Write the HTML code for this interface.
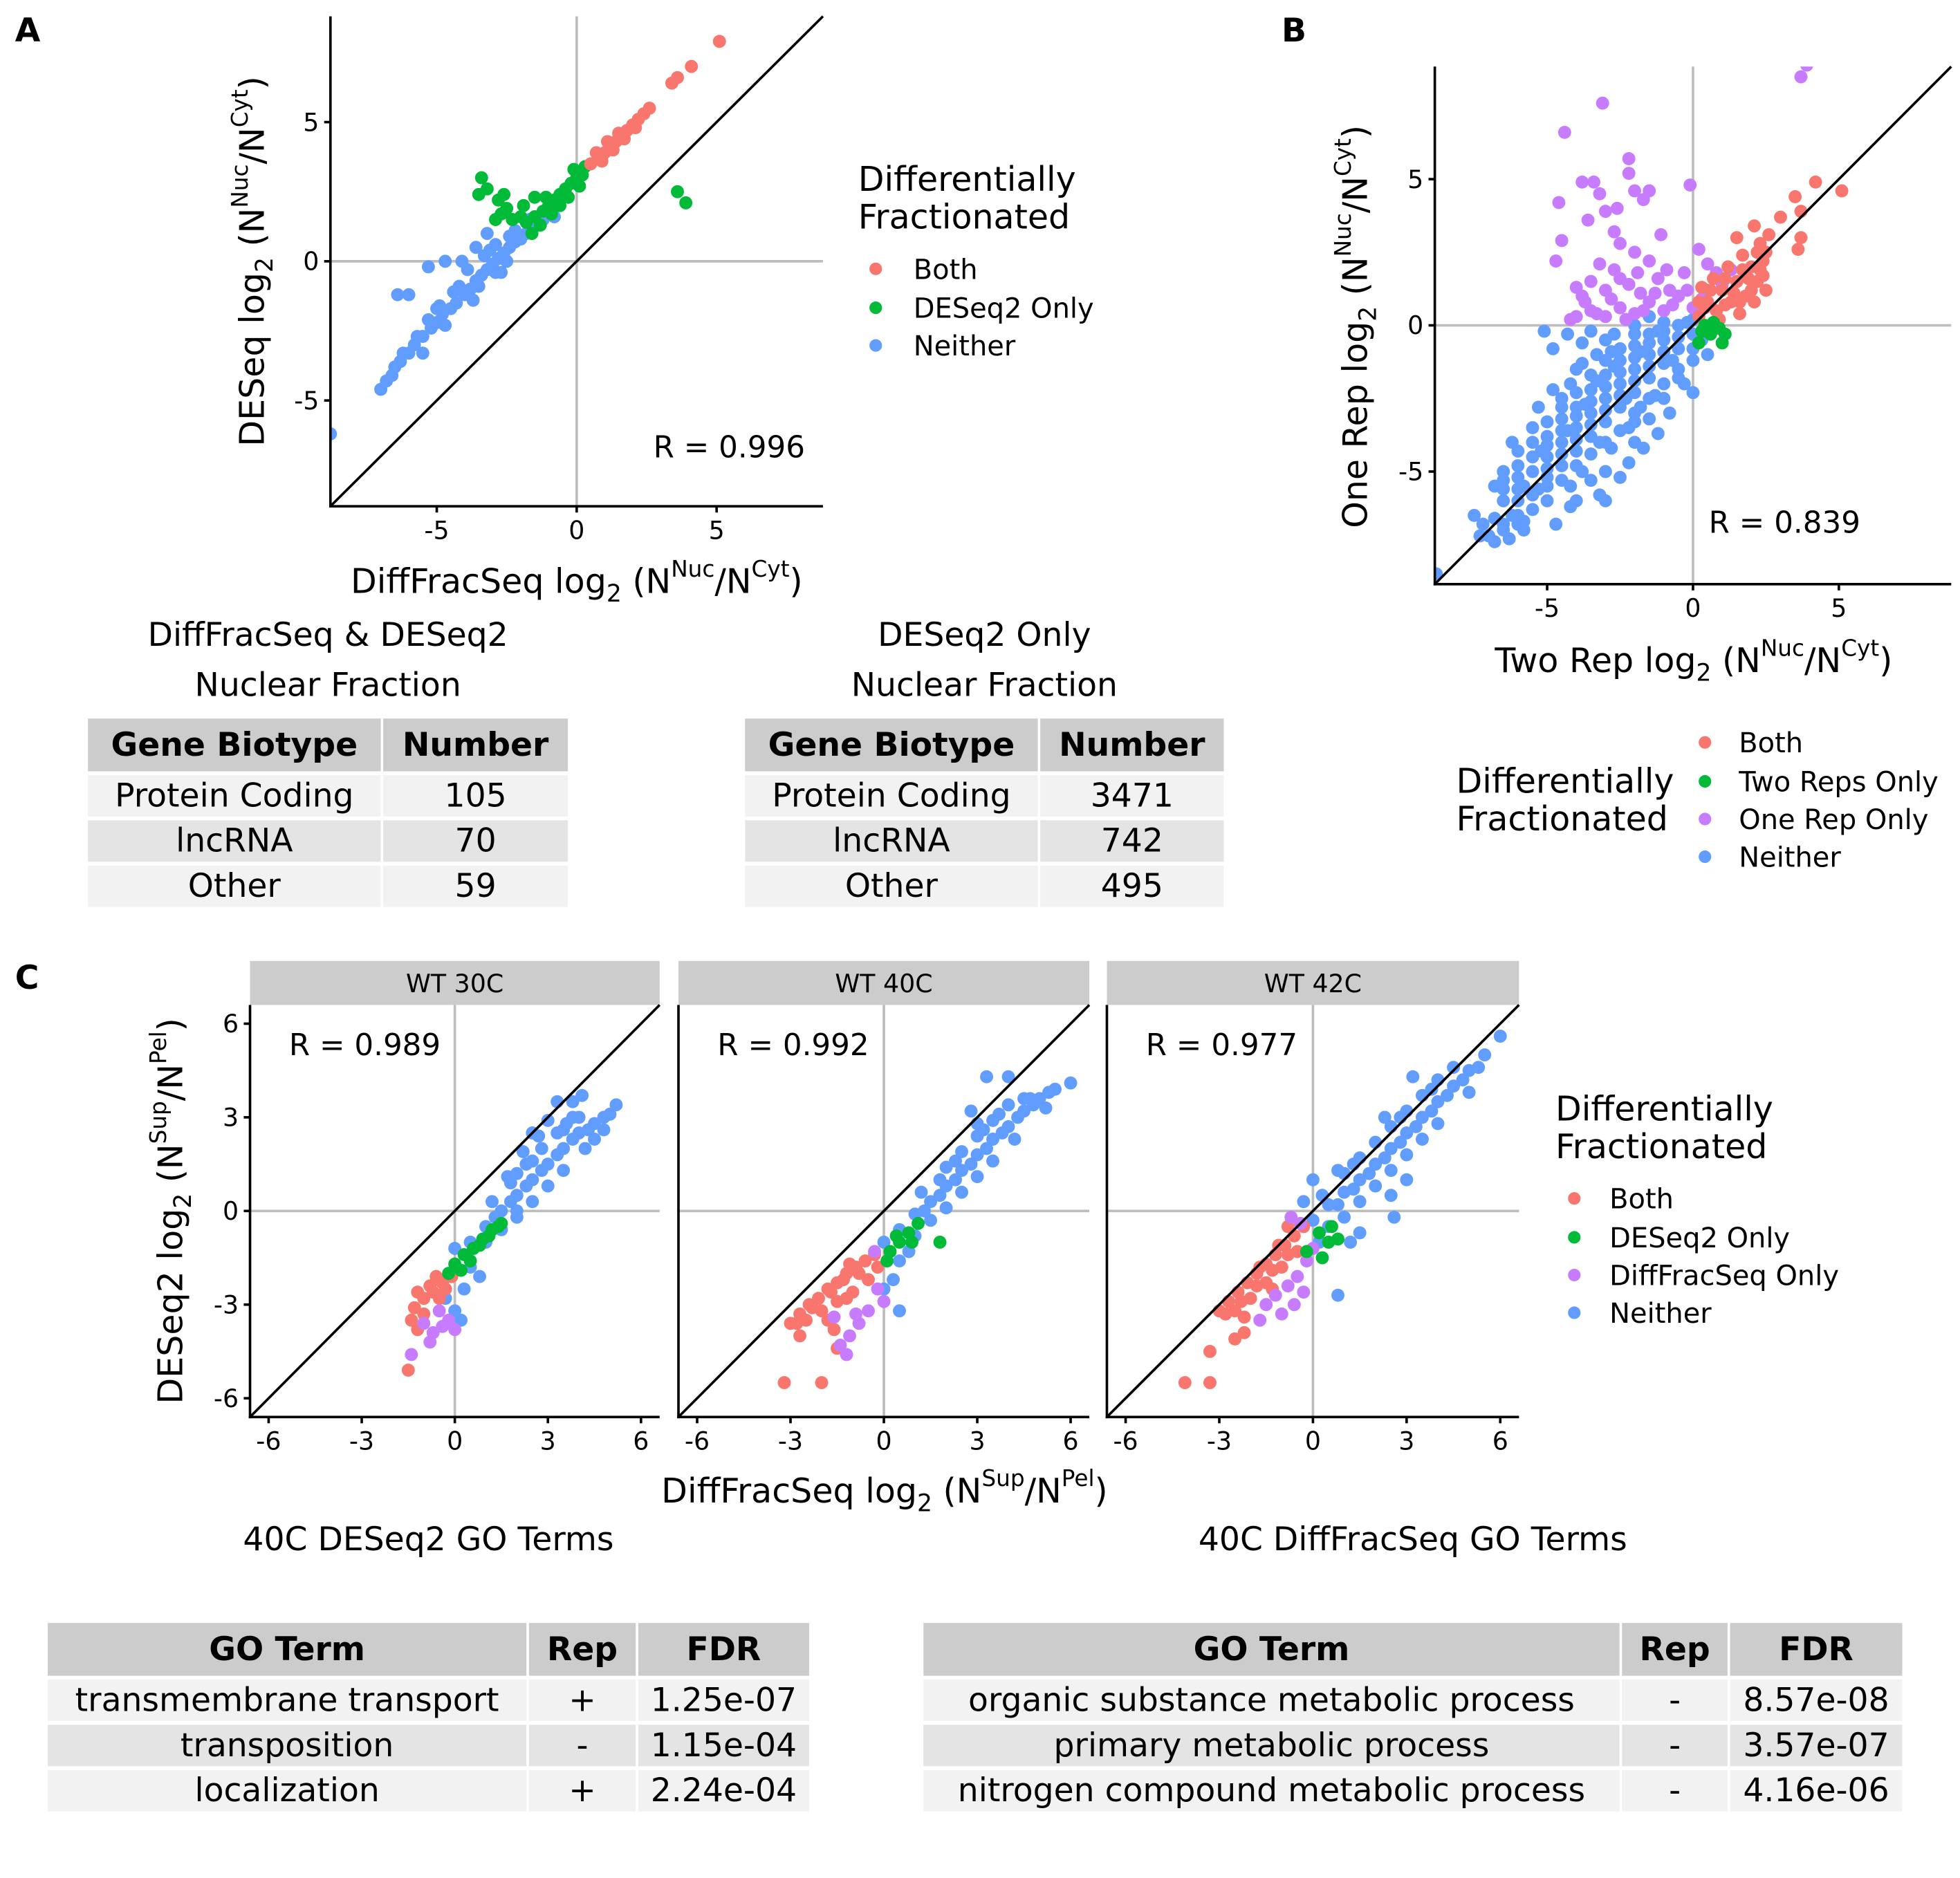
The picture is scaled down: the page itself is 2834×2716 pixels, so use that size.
<!DOCTYPE html>
<html><head><meta charset="utf-8">
<style>
html,body{margin:0;padding:0;background:#fff;}
svg{display:block;}
text{font-family:"DejaVu Sans","Liberation Sans",sans-serif;fill:#000;}
</style></head>
<body>
<svg id="fig" width="2834" height="2716" viewBox="0 0 1560 1495" preserveAspectRatio="none" xmlns="http://www.w3.org/2000/svg">
<rect x="0" y="0" width="1560" height="1495" fill="#fff"/>
<text x="12" y="33" font-size="26" font-weight="bold">A</text>
<text x="1020" y="33" font-size="26" font-weight="bold">B</text>
<text x="12" y="787" font-size="26" font-weight="bold">C</text>
<g id="layer"></g>
</svg>
<script>
// ---- data ----
const colorBoth="#F8766D", colorGreen="#00BA38", colorPurple="#C77CFF", colorBlue="#619CFF";
const aBlue=[[-8.8,-6.2],[-7,-4.6],[-6.6,-4.1],[-6.3,-3.6],[-6,-3.3],[-5.8,-3],[-5.5,-2.7],[-5.2,-2.4],[-5,-2.2],[-4.8,-1.9],[-4.5,-1.7],[-4.3,-1.5],[-4,-1.2],[-3.8,-1],[-3.6,-0.7],[-3.4,-0.5],[-3.2,-0.3],[-3,-0.1],[-2.8,0.1],[-2.6,0.3],[-2.4,0.5],[-2.2,0.7],[-2,0.8],[-1.8,1],[-1.6,1.2],[-1.4,1.3],[-6,-1.2],[-6.4,-1.2],[-5.3,-0.2],[-4.1,0],[-3.6,0.5],[-3.9,-0.3],[-3.3,0.2],[-2.9,0.6],[-2.4,0.9],[-5,-1.7],[-4.4,-1.1],[-3.5,-0.9],[-2.9,-0.4],[-2.5,0],[-4.7,0],[-3.2,1],[-1.2,1.5],[-0.8,1.6],[-5.5,-3.3],[-6.5,-3.8],[-4.7,-2.3],[-3.7,-1.4],[-2.7,-0.4],[-6.8,-4.3],[-6.2,-3.3],[-5.7,-2.7],[-5.3,-2.1],[-4.9,-1.6],[-4.2,-0.9],[-3.1,0.4],[-2.2,1.1],[-1.7,1.5]];
const aGreen=[[-3.4,3.0],[-3.2,2.6],[-3.5,2.4],[-2.8,2.2],[-2.5,1.9],[-2.7,1.7],[-2.0,1.6],[-1.8,1.4],[-1.5,1.6],[-1.2,1.8],[-1.0,2.0],[-0.8,2.2],[-0.6,2.4],[-0.4,2.6],[-0.2,2.8],[0,3.0],[0.2,3.1],[-0.1,3.3],[0.3,3.4],[-1.5,2.3],[-1.9,2.0],[-2.3,1.5],[-1.3,1.3],[-0.6,2.0],[-2.6,2.4],[3.6,2.5],[3.9,2.1],[-2.9,1.5],[-1.6,1.0],[-0.9,1.7],[-0.3,2.3],[0.1,2.7],[-1.1,2.3]];
const aRed=[[0.5,3.5],[0.8,3.7],[1.0,3.9],[1.2,4.1],[1.4,4.3],[1.6,4.5],[1.8,4.7],[2.0,4.9],[2.2,5.1],[2.4,5.3],[2.6,5.5],[1.1,4.3],[1.5,4.6],[0.7,3.9],[3.4,6.4],[3.6,6.6],[4.1,7.0],[5.1,7.9],[0.9,3.6],[1.3,4.0],[1.7,4.4],[2.1,4.8]];
const bBlue=[[-7,-7.2],[-7.2,-6.8],[-6.8,-6.6],[-6.5,-7],[-6.2,-6.5],[-6.5,-6],[-6,-6],[-5.8,-5.5],[-6,-5.2],[-5.5,-5],[-5.3,-5.6],[-5,-5.2],[-5.5,-4.5],[-5,-4.5],[-4.5,-4.8],[-4.5,-4],[-5,-3.8],[-4,-4.3],[-4,-3.5],[-4.5,-3.2],[-3.5,-3.8],[-3.5,-3],[-4,-2.8],[-3,-3.3],[-3,-2.5],[-3.5,-2.2],[-2.5,-2.8],[-2.5,-2],[-3,-1.7],[-2,-2.3],[-2,-1.5],[-2.5,-1.2],[-1.5,-1.8],[-1.5,-1],[-2,-0.7],[-1,-1.3],[-1,-0.5],[-1.5,-0.3],[-0.5,-0.8],[-0.5,0],[-1,0.1],[0,-0.3],[0,0.2],[0.3,-0.5],[-3.5,-0.2],[-3,-0.5],[-4,-1.5],[-2,0],[-6.5,-5],[-7.5,-6.5],[-8.8,-8.5],[-4,-6],[-3,-5],[-2,-4],[-1.5,-3.2],[-1,-2.5],[-0.5,-1.8],[0,-1.2],[0.5,-1],[-5.5,-6.3],[-5,-6],[-6,-4.3],[-5.5,-3.5],[-4.8,-2.2],[-3.8,-5],[-2.8,-4.2],[-2,-3.3],[-1.3,-2.4],[-4.2,-5.5],[-3.2,-4],[-6.3,-7.3],[-5.8,-6.7],[0,-2.3],[-0.3,-2],[-4.5,-2.5],[-3.8,-1.3],[-3.3,-1],[-2.7,-0.3],[-1.5,0.3],[-6.8,-5.5],[-4.8,-0.8],[-2.2,-3.5],[-1.2,-3.7],[-2.5,-5.2],[-3.2,-5.8],[-5.1,-0.2],[-4.7,-6.8],[-3,-6],[-4.2,-2],[-3.3,-1.9],[-2.7,-1.4],[-1.8,-0.9],[-1.2,-0.2],[-5.2,-4.3],[-4.3,-3.6],[-3.7,-2.7],[-2.3,-2.5],[-0.7,-1.2],[-6,-6.8],[-6.5,-5.6],
[-6.5,-6.8],[-6.5,-5.3],[-6,-6.5],[-6,-5.6],[-6,-4.8],[-5.5,-5.8],[-5.5,-4],[-5,-5.5],[-5,-4.9],[-5,-4.1],[-5,-3.3],[-4.5,-5.3],[-4.5,-4.4],[-4.5,-3.6],[-4.5,-2.8],[-4,-4.8],[-4,-3.9],[-4,-3.1],[-4,-2.3],[-3.5,-4.4],[-3.5,-3.4],[-3.5,-2.6],[-3.5,-1.7],[-3,-4],[-3,-2.9],[-3,-2.1],[-3,-1.2],[-2.5,-3.6],[-2.5,-2.4],[-2.5,-1.6],[-2.5,-0.8],[-2,-3],[-2,-1.9],[-2,-1.1],[-2,-0.3],[-1.5,-2.5],[-1.5,-1.4],[-1.5,-0.6],[-1,-2],[-1,-0.9],[-1,-0.2],[-0.5,-1.5],[-0.5,-0.4],[0,-0.8],[-0.2,0.1],[0.3,-0.2],[-4.3,-0.3],[-3.8,-0.6],[-2.8,-0.9],[-1.8,-2.8],[-0.8,-3],[-3.5,-5.3],[-4.2,-6.2],[-6.8,-7.4],[-7.3,-7.2],[-5.8,-7],[-2.2,-4.7],[-1.7,-4.2],[-5.3,-2.8],[-6.2,-4]];
const bPurple=[[-4,0.3],[-3.5,0.5],[-3,0.3],[-2.5,0.6],[-2,0.4],[-1.5,0.8],[-1,0.5],[-0.5,1],[0,0.6],[0.5,1.2],[1,1.4],[-3.8,1],[-3,1.2],[-2.2,1.4],[-1.2,1.6],[-0.3,1.8],[0.5,2.1],[-2.7,1.9],[-1.8,1.1],[-0.8,1.2],[-3.2,2.1],[-2,2.5],[-1.5,2.2],[-4.4,6.6],[-4.6,4.2],[-3.8,4.9],[-3.4,4.9],[-3.2,4.5],[-2.6,4],[-3.1,7.6],[-2.2,5.7],[-2.2,5.2],[-2,4.6],[-1.7,4.3],[-2.7,3.2],[-2.5,2.8],[-1.1,3.1],[-0.1,4.8],[-4.7,2.2],[-4.5,2.9],[-3.6,3.6],[-3,3.9],[-1.5,4.6],[3.7,8.5],[3.9,8.9],[0.2,2.6],
[-4.2,0.2],[-3.7,0.8],[-3.3,0.4],[-2.8,0.9],[-2.3,0.2],[-1.7,0.5],[-1.3,1.1],[-0.7,0.7],[-0.2,1.2],[0.3,0.9],[0.8,1.8],[-2.5,1.6],[-1.9,1.8],[-0.9,1.9],[-3.5,1.5],[-4,1.3],[1.3,1.9]];
const bRed=[[0.2,0.3],[0.5,0.8],[0.8,0.5],[1,1.2],[1.3,0.8],[1.5,1.5],[1.8,1],[2,2],[2.2,1.5],[2.4,2.2],[1.2,2],[0.7,1.6],[1.7,2.4],[2.5,1.2],[0.9,0.2],[1.6,0.4],[2.1,0.8],[1.5,3],[2.6,3.1],[2.1,3.4],[3.6,2.6],[3.7,3],[3.7,3.9],[3.5,4.4],[4.2,4.9],[5.1,4.6],[3,3.7],[2.3,2.8],[0.3,1.3],
[0.4,0.6],[0.6,1.2],[1.1,0.7],[1.4,1.1],[1.9,1.6],[2.3,1.9],[2.5,2.5],[1.7,1.9],[1.1,1.6],[2,1.2],[2.4,1.7],[0.2,0.8],[1.6,0.8],[2.2,2.5]];
const bGreen=[[0.3,-0.2],[0.6,-0.3],[0.9,-0.1],[1.1,-0.3],[0.7,0.1],[0.2,-0.6],[1.0,-0.6],[0.4,0.0]];
const c30Blue=[[0,-1.2],[0.5,-1],[1,-0.5],[1.5,0],[2,0.5],[2.5,1],[3,1.5],[3.5,2],[4,2.5],[4.5,2.8],[5,3.1],[5.2,3.4],[1.2,0.3],[1.8,0.9],[2.3,1.5],[2.8,2],[3.3,2.5],[3.8,3],[3.3,3.5],[3.8,3.5],[2.2,1.9],[2.7,2.4],[3,2.9],[1,-1],[1.5,-0.6],[2,-0.2],[2.5,0.3],[3,0.8],[3.5,1.3],[4.2,2],[4.5,2.3],[0.5,-1.8],[0.3,-2.5],[0.8,-2.1],[0,-3.2],[0.2,-3.5],[-0.3,-2.8],[4.8,2.6],[3.6,2.8],[2,0],[1.7,1.1],[4.1,3.7],[2.5,2.5],
[1.3,-0.2],[1.8,0.3],[2.3,0.8],[2.8,1.3],[3.3,1.8],[3.8,2.3],[4.3,2.6],[4.8,3],[2.5,1.6],[2,1.2],[3.5,2.6],[4,3]];
const c30Green=[[0,-1.7],[0.3,-1.4],[0.6,-1.2],[0.9,-0.9],[1.2,-0.6],[1.5,-0.4],[0.2,-1.9],[0.5,-1.6],[0.8,-1.1],[1.1,-0.8],[1.4,-0.5],[-0.2,-2.0]];
const c30Red=[[-1.3,-3.1],[-1,-2.8],[-0.7,-2.6],[-0.4,-2.3],[-0.1,-2.1],[-1.2,-2.6],[-0.8,-2.4],[-0.5,-2.8],[-1.4,-3.5],[-1.0,-3.3],[-0.3,-2.5],[-1.5,-5.1],[-1.2,-3.8],[-0.6,-2.1]];
const c30Purple=[[-1,-3.6],[-0.7,-3.9],[-0.4,-3.7],[-0.8,-4.2],[-0.2,-3.5],[-1.4,-4.6],[0,-3.8],[-0.5,-3.2]];
const c40Blue=[[0,-1],[0.5,-0.6],[1,-0.1],[1.5,0.3],[2,0.8],[2.5,1.3],[3,1.8],[3.5,2.3],[4,2.7],[4.5,3.2],[5,3.6],[5.5,3.9],[6,4.1],[2,1.4],[2.5,1.9],[3,2.4],[3.5,2.9],[4,3.4],[2.8,3.2],[3,2.8],[3.3,4.3],[4,4.3],[4.7,3.6],[1.5,-0.3],[2,0.1],[2.5,0.6],[3,1.1],[3.5,1.6],[4.2,2.3],[0.5,-1.6],[0.3,-2.2],[0.5,-3.2],[0,-2.5],[1,-0.8],[1.2,0.6],[5.2,3.3],[1.8,1],[0.8,-1.3],
[1.3,0],[1.8,0.5],[2.3,1],[2.8,1.5],[3.3,2],[3.8,2.5],[4.3,3],[4.8,3.4],[5.3,3.8],[2.3,1.6],[3.2,2.6],[3.7,3.1],[4.5,3.6]];
const c40Green=[[0.2,-1.3],[0.5,-1.0],[0.8,-0.7],[1.1,-0.4],[0.4,-0.8],[0.9,-1],[1.8,-1.0],[0.1,-1.6]];
const c40Red=[[-3,-3.6],[-2.7,-3.3],[-2.4,-3],[-2.1,-2.8],[-1.8,-2.5],[-1.5,-2.3],[-1.2,-2],[-0.9,-1.8],[-0.6,-1.6],[-0.3,-1.4],[-2.5,-3.5],[-2,-3.2],[-1.5,-2.9],[-1,-2.6],[-0.5,-2.2],[-1.8,-3.5],[-1.2,-2.8],[-3.2,-5.5],[-2,-5.5],[-2.7,-4],[-1.5,-4.4],[-1.6,-3.8],[-0.2,-1.8],
[-2.8,-3.6],[-2.3,-3.1],[-1.7,-2.6],[-1.3,-2.2],[-0.8,-2],[-1.1,-1.7]];
const c40Purple=[[-1.4,-4.3],[-1.1,-4],[-0.8,-3.6],[-0.5,-3.2],[-1.2,-4.6],[-0.9,-3.3],[-0.2,-2.5],[-0.3,-1.3],[0,-2.9],[-1.6,-3.4]];
const c42Blue=[[0,-0.3],[0.5,0.2],[1,0.6],[1.5,1],[2,1.5],[2.5,2],[3,2.5],[3.5,3],[4,3.5],[4.5,4],[5,4.5],[5.5,5],[6,5.6],[1,1.2],[1.5,1.7],[2,2.2],[2.5,2.7],[3,3.2],[3.5,3.7],[4,4.2],[4.5,4.6],[1.5,0.3],[2,0.8],[2.5,1.3],[3,1.8],[3.5,2.3],[4,2.8],[0.5,-0.5],[1,-0.2],[2.5,0.5],[3,1],[0.3,0.5],[0.8,1.3],[3.2,4.3],[2.3,3],[0,1],[-0.3,0.3],[1.2,-1],[0.8,-2.7],[1.5,-0.7],[0.2,-1],[5,3.8],[2.6,-0.2],
[0.8,0.2],[1.3,0.7],[1.8,1.2],[2.3,1.7],[2.8,2.2],[3.3,2.7],[3.8,3.2],[4.3,3.7],[4.8,4.2],[5.3,4.6],[1.3,1.5],[2.8,3],[3.8,3.9]];
const c42Red=[[-3,-3.2],[-2.7,-2.9],[-2.4,-2.6],[-2.1,-2.3],[-1.8,-2],[-1.5,-1.7],[-1.2,-1.4],[-0.9,-1.1],[-0.6,-0.8],[-0.3,-0.5],[-2.5,-3.2],[-2,-2.8],[-1.5,-2.3],[-1,-1.8],[-0.5,-1.3],[-2.2,-3.4],[-1.3,-2.5],[-4.1,-5.5],[-3.3,-5.5],[-3.3,-4.5],[-2.5,-4.1],[-2.2,-3.9],[-0.8,-0.5],
[-2.8,-3.3],[-2.3,-2.9],[-1.8,-2.4],[-1.3,-1.9],[-0.8,-1.4],[-1.7,-1.8],[-1.1,-1.1]];
const c42Purple=[[-1.5,-3],[-1.2,-2.7],[-0.8,-2.4],[-0.5,-2.1],[-1,-3.3],[-0.6,-3],[-0.2,-1.6],[0,-1.2],[-0.4,-0.4],[-0.7,-0.2],[-1.7,-3.5],[-0.3,-2.6]];
const c42Green=[[0.2,-0.7],[0.5,-1.0],[0.3,-1.5],[0.8,-0.9],[0.6,-0.5],[-0.2,-1.3]];
const ticksAB=[-5,0,5];
const ticksC=[-6,-3,0,3,6];

const NS="http://www.w3.org/2000/svg";
const layer=document.getElementById('layer');
function mk(tag,attrs,parent){const e=document.createElementNS(NS,tag);for(const k in attrs)e.setAttribute(k,attrs[k]);(parent||layer).appendChild(e);return e;}
function txt(x,y,s,size,anchor,parent,extra){const t=mk('text',Object.assign({x:x,y:y,'font-size':size,'text-anchor':anchor||'start'},extra||{}),parent);t.textContent=s;return t;}

function panel(name,x0,y0,x1,y1,dom,ticks,series,rtext,rx,ry,yticks){
  const g=mk('g',{});
  
  
  const sx=v=>x0+(v-dom[0])/(dom[1]-dom[0])*(x1-x0);
  const sy=v=>y1-(v-dom[0])/(dom[1]-dom[0])*(y1-y0);
  const clipId='clip-'+name;
  const cp=mk('clipPath',{id:clipId},g);mk('rect',{x:x0,y:y0,width:x1-x0,height:y1-y0},cp);
  const hz=mk('line',{x1:x0,x2:x1,y1:sy(0),y2:sy(0),stroke:'#bdbdbd','stroke-width':2},g);
  
  const vz=mk('line',{x1:sx(0),x2:sx(0),y1:y0,y2:y1,stroke:'#bdbdbd','stroke-width':2},g);
  
  const pts=mk('g',{'clip-path':'url(#'+clipId+')'},g);
  series.forEach(s=>{s[0].forEach(p=>{const c=mk('circle',{cx:sx(p[0]),cy:sy(p[1]),r:5.2,fill:s[1]},pts);
    
    });});
  const dl=mk('line',{x1:sx(dom[0]),y1:sy(dom[0]),x2:sx(dom[1]),y2:sy(dom[1]),stroke:'#000','stroke-width':2},g);
  
  mk('line',{x1:x0,x2:x0,y1:y0,y2:y1+1,stroke:'#000','stroke-width':2},g);
  mk('line',{x1:x0-1,x2:x1,y1:y1,y2:y1,stroke:'#000','stroke-width':2},g);
  ticks.forEach(t=>{mk('line',{x1:sx(t),x2:sx(t),y1:y1,y2:y1+5,stroke:'#000','stroke-width':2},g);
    const l=txt(sx(t),y1+26,String(t),20,'middle',g);
    });
  if(yticks){ticks.forEach(t=>{mk('line',{x1:x0-5,x2:x0,y1:sy(t),y2:sy(t),stroke:'#000','stroke-width':2},g);
    const l=txt(x0-9,sy(t)+7,String(t),20,'end',g);
    });}
  const r=txt(rx,ry,rtext,24,'start',g);
  return g;
}
panel('panel-a-scatter',263,13,655,403,[-8.8,8.8],ticksAB,[[aBlue,colorBlue,'neither'],[aGreen,colorGreen,'deseq2-only'],[aRed,colorBoth,'both']],'R = 0.996',520,364,true);
panel('panel-b-scatter',1142,53,1553,465,[-8.85,8.85],ticksAB,[[bBlue,colorBlue,'neither'],[bPurple,colorPurple,'one-rep-only'],[bRed,colorBoth,'both'],[bGreen,colorGreen,'two-reps-only']],'R = 0.839',1360,424,true);
const fac=[['WT 30C',199,525,c30Blue,c30Green,c30Red,c30Purple,[],'R = 0.989'],['WT 40C',540,867,c40Blue,c40Green,c40Red,c40Purple,[],'R = 0.992'],['WT 42C',881,1209,c42Blue,c42Green,c42Red,c42Purple,[],'R = 0.977']];
fac.forEach((f,i)=>{
  const s=mk('rect',{x:f[1],y:765,width:f[2]-f[1],height:35,fill:'#cccccc'});
  
  const st=txt((f[1]+f[2])/2,790,f[0],20,'middle');
  panel('panel-c-facet-'+(i+1),f[1],800,f[2],1128,[-6.6,6.6],ticksC,[[f[3],colorBlue,'neither'],[f[5],colorBoth,'both'],[f[6],colorPurple,'difffracseq-only'],[f[4],colorGreen,'deseq2-only']],f[8],f[1]+31,840,i===0);
});

// legends
function legend(name,tx,dx,tx2,ys,labels,cols,titleYs){
  const g=mk('g',{});
  txt(tx,titleYs[0],'Differentially',27,'start',g);txt(tx,titleYs[1],'Fractionated',27,'start',g);
  labels.forEach((l,i)=>{mk('circle',{cx:dx,cy:ys[i],r:5,fill:cols[i]},g);
    const t=txt(tx2,ys[i]+8,l,22,'start',g);});
}
legend('legend-a',683,697,727,[214,245,275],['Both','DESeq2 Only','Neither'],[colorBoth,colorGreen,colorBlue],[152,182]);
legend('legend-b',1159,1357,1384,[591,622,652,682],['Both','Two Reps Only','One Rep Only','Neither'],[colorBoth,colorGreen,colorPurple,colorBlue],[631,661]);
legend('legend-c',1238,1253,1281,[954,985,1015,1045],['Both','DESeq2 Only','DiffFracSeq Only','Neither'],[colorBoth,colorGreen,colorPurple,colorBlue],[892,922]);

// axis titles
function axisTitle(name,x,y,rot,pre,sup1,sup2){
  const g=mk('g',{transform:'translate('+x+','+y+') rotate('+rot+')'});
  
  const t=mk('text',{x:0,y:0,'font-size':27,'text-anchor':'middle'},g);
  const parts=[[pre+' log',0,27],['2',7,19],[' (N',-7,27],[sup1,-13,18],['/N',13,27],[sup2,-13,18],[')',13,27]];
  parts.forEach(p=>{const s=mk('tspan',{dy:p[1],'font-size':p[2]},t);s.textContent=p[0];});
}
axisTitle('x-axis-title-a',459,472,0,'DiffFracSeq','Nuc','Cyt');
axisTitle('y-axis-title-a',210,208,-90,'DESeq','Nuc','Cyt');
axisTitle('x-axis-title-b',1348,535,0,'Two Rep','Nuc','Cyt');
axisTitle('y-axis-title-b',1088,260,-90,'One Rep','Nuc','Cyt');
axisTitle('x-axis-title-c',704,1196,0,'DiffFracSeq','Sup','Pel');
axisTitle('y-axis-title-c',145,964,-90,'DESeq2','Sup','Pel');

// tables
function table(name,x,cols,headers,rows,title1,title2,ty){
  const g=mk('g',{});
  const cx=(x+cols[cols.length-1])/2;
  txt(cx,ty,title1,26,'middle',g);
  if(title2)txt(cx,ty+40,title2,26,'middle',g);
  const top=ty+57;
  const heights=[43,34,34,34];const fills=['#cccccc','#f2f2f2','#e4e4e4','#f2f2f2'];
  let y=top;
  [headers].concat(rows).forEach((r,ri)=>{
    let xs=x;
    r.forEach((c,ci)=>{const w=cols[ci]-xs;
      mk('rect',{x:xs+1,y:y+1,width:w-2,height:heights[ri]-1,fill:fills[ri]},g);
      const t=txt(xs+w/2,y+heights[ri]/2+9,c,26,'middle',g,ri===0?{'font-weight':'bold'}:{});
      
      xs=cols[ci];});
    y+=heights[ri]+2;});
}
table('table-difffracseq-deseq2',69,[304,453],['Gene Biotype','Number'],[['Protein Coding','105'],['lncRNA','70'],['Other','59']],'DiffFracSeq & DESeq2','Nuclear Fraction',514);
table('table-deseq2-only',592,[827,975],['Gene Biotype','Number'],[['Protein Coding','3471'],['lncRNA','742'],['Other','495']],'DESeq2 Only','Nuclear Fraction',514);
table('table-go-deseq2',37,[420,507,645],['GO Term','Rep','FDR'],[['transmembrane transport','+','1.25e-07'],['transposition','-','1.15e-04'],['localization','+','2.24e-04']],'40C DESeq2 GO Terms',null,1234);
table('table-go-difffracseq',734,[1290,1376,1515],['GO Term','Rep','FDR'],[['organic substance metabolic process','-','8.57e-08'],['primary metabolic process','-','3.57e-07'],['nitrogen compound metabolic process','-','4.16e-06']],'40C DiffFracSeq GO Terms',null,1234);
</script>
</body></html>
